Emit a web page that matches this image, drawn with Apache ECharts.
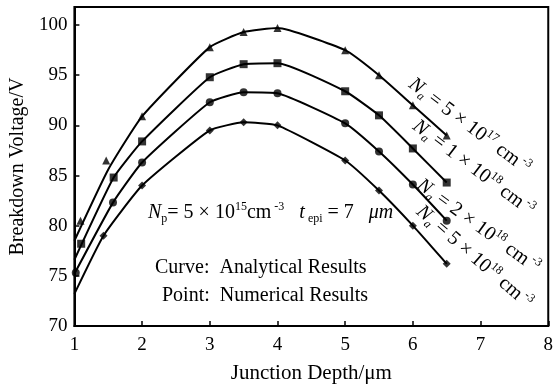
<!DOCTYPE html>
<html>
<head>
<meta charset="utf-8" />
<script src="https://cdn.jsdelivr.net/npm/echarts@6/dist/echarts.min.js"></script>
</head>
<body style="margin:0;background:#fff;">
<div id="container" style="width:556px;height:389px;"></div>
<script>
// analytical curves: [junction depth (um), breakdown voltage (V)]
var curve1 = [[1, 78.5], [1.5, 85.6], [2, 90.9], [3, 97.8], [3.5, 99.3], [4, 99.7], [5, 97.5], [5.5, 95.0], [6, 92.0], [6.5, 89.0]];
var curve2 = [[1, 76.6], [1.58, 84.8], [2, 88.4], [3, 94.8], [3.5, 96.1], [4, 96.2], [5, 93.4], [5.5, 91.0], [6, 87.7], [6.5, 84.3]];
var curve3 = [[1, 75.2], [1.57, 82.3], [2, 86.3], [3, 92.3], [3.5, 93.3], [4, 93.2], [5, 90.2], [5.5, 87.4], [6, 84.1], [6.5, 80.5]];
var curve4 = [[1, 73.2], [1.43, 79.0], [2, 84.0], [3, 89.5], [3.5, 90.3], [4, 90.0], [5, 86.5], [5.5, 83.5], [6, 80.0], [6.5, 76.2]];

// numerical points
var points1 = [[1.09, 80.5], [1.47, 86.5], [2, 90.9], [3, 97.8], [3.5, 99.3], [4, 99.7], [5, 97.5], [5.5, 95.0], [6, 92.0], [6.5, 89.0]];
var points2 = [[1.1, 78.2], [1.58, 84.8], [2, 88.4], [3, 94.8], [3.5, 96.1], [4, 96.2], [5, 93.4], [5.5, 91.0], [6, 87.7], [6.5, 84.3]];
var points3 = [[1.02, 75.3], [1.57, 82.3], [2, 86.3], [3, 92.3], [3.5, 93.3], [4, 93.2], [5, 90.2], [5.5, 87.4], [6, 84.1], [6.5, 80.5]];
var points4 = [[1.43, 79.0], [2, 84.0], [3, 89.5], [3.5, 90.3], [4, 90.0], [5, 86.5], [5.5, 83.5], [6, 80.0], [6.5, 76.2]];

var curveLabels = [
  ['5', '17'],
  ['1', '18'],
  ['2', '18'],
  ['5', '18']
];

var FONT = 'Liberation Serif';
var curves = [curve1, curve2, curve3, curve4];
var points = [points1, points2, points3, points4];
var symbols = ['triangle', 'rect', 'circle', 'diamond'];

var series = [];
curves.forEach(function (c) {
  series.push({
    type: 'line',
    data: c,
    smooth: 0.15,
    symbol: 'none',
    lineStyle: { color: '#000', width: 2 },
    silent: true
  });
});
points.forEach(function (p, i) {
  series.push({
    type: 'scatter',
    data: p,
    symbol: symbols[i],
    symbolSize: 8,
    itemStyle: { color: '#000' }
  });
});

var rich = {
  i: { fontFamily: FONT, fontStyle: 'italic', fontSize: 20, lineHeight: 24 },
  n: { fontFamily: FONT, fontSize: 20, lineHeight: 24 },
  sub: { fontFamily: FONT, fontSize: 12, verticalAlign: 'bottom', lineHeight: 12 },
  isub: { fontFamily: FONT, fontSize: 12, fontStyle: 'italic', verticalAlign: 'bottom', lineHeight: 12 },
  sup: { fontFamily: FONT, fontSize: 12, verticalAlign: 'top', lineHeight: 12 }
};

var labelPos = [[411, 82, 37], [415, 124, 37], [419, 183, 36], [419, 209, 41]];
var graphics = [
  {
    type: 'text', left: 148, top: 201,
    style: {
      text: '{i|N}{sub|p}{n|= 5 × 10}{sup|15}{n|cm}{sup| -3}{n|   }{i|t}{sub| epi}{n| = 7   }{i|μm}',
      rich: rich, fill: '#000'
    }
  },
  {
    type: 'text', left: 155, top: 258,
    style: { text: 'Curve:  Analytical Results', font: '20px "Liberation Serif"', fill: '#000' }
  },
  {
    type: 'text', left: 162, top: 286,
    style: { text: 'Point:  Numerical Results', font: '20px "Liberation Serif"', fill: '#000' }
  }
];
curveLabels.forEach(function (l, i) {
  var p = labelPos[i];
  graphics.push({
    type: 'text',
    x: p[0], y: p[1],
    rotation: -p[2] * Math.PI / 180,
    style: {
      text: '{i|N}{isub|a}{n| = ' + l[0] + ' × 10}{sup|' + l[1] + '}{n| cm}{sup| -3}',
      rich: rich, fill: '#000', textVerticalAlign: 'middle', textAlign: 'left'
    }
  });
});

var chart = echarts.init(document.getElementById('container'));
chart.setOption({
  animation: false,
  backgroundColor: '#fff',
  grid: { left: 71, right: 5, top: 7, bottom: 63, show: true, borderColor: '#000', borderWidth: 2 },
  xAxis: {
    type: 'value', min: 1, max: 8, interval: 1,
    name: 'Junction Depth/μm', nameLocation: 'middle', nameGap: 37,
    nameTextStyle: { fontFamily: FONT, fontSize: 21, color: '#000' },
    axisLine: { lineStyle: { color: '#000', width: 2 } },
    axisTick: { inside: true, length: 5, lineStyle: { color: '#000', width: 1.5 } },
    axisLabel: { fontFamily: FONT, fontSize: 19, color: '#000', margin: 10 },
    splitLine: { show: false }
  },
  yAxis: {
    type: 'value', min: 70, max: 101.8, interval: 5,
    name: 'Breakdown Voltage/V', nameLocation: 'middle', nameGap: 42,
    nameTextStyle: { fontFamily: FONT, fontSize: 20, color: '#000' },
    axisLine: { lineStyle: { color: '#000', width: 2 } },
    axisTick: { inside: true, length: 5, lineStyle: { color: '#000', width: 1.5 } },
    axisLabel: {
      fontFamily: FONT, fontSize: 19, color: '#000', margin: 7,
      formatter: function (v) { return v % 5 === 0 ? v : ''; }
    },
    splitLine: { show: false }
  },
  series: series,
  graphic: graphics
});
</script>
</body>
</html>
